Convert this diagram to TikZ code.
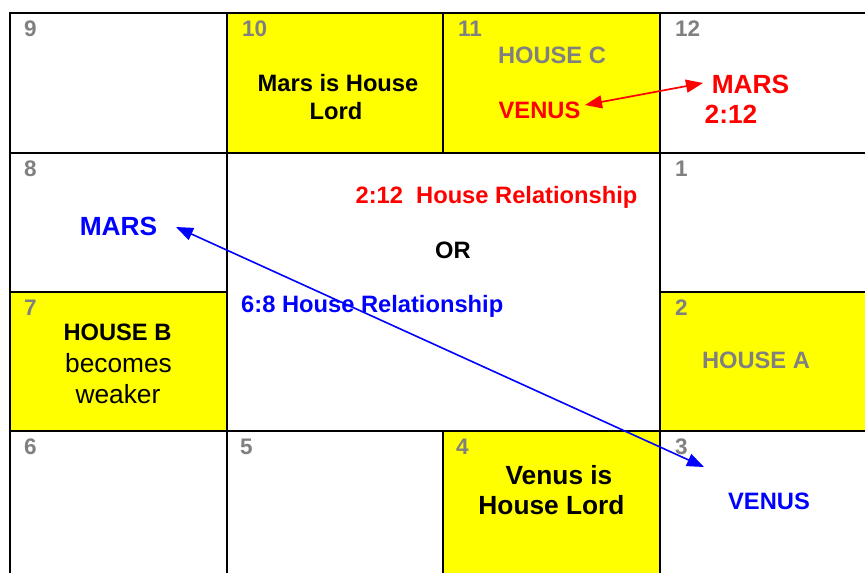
\documentclass[tikz,border=0pt]{standalone}
\usepackage{fontspec}
\setmainfont{Liberation Sans}
\usetikzlibrary{arrows.meta}
\definecolor{numgray}{RGB}{128,128,128}
\definecolor{cellyellow}{RGB}{255,255,0}
\definecolor{pred}{RGB}{255,0,0}
\definecolor{pblue}{RGB}{0,0,255}
\begin{document}
\begin{tikzpicture}[x=1pt,y=-1pt,
  num/.style={anchor=base west, text=numgray, font=\fontsize{22.5}{26}\selectfont\bfseries, inner sep=0pt},
  lbl/.style={anchor=base, inner sep=0pt, font=\fontsize{23.7}{28}\selectfont\bfseries},
  big/.style={anchor=base, inner sep=0pt, font=\fontsize{26.3}{30}\selectfont\bfseries},
  reg/.style={anchor=base, inner sep=0pt, font=\fontsize{26.3}{30}\selectfont},
  gridline/.style={line width=1.8pt, line cap=rect},
  redarrow/.style={draw=pred, line width=1.7pt, {Triangle[length=17pt,width=13pt]}-{Triangle[length=17pt,width=13pt]}},
  bluearrow/.style={draw=pblue, line width=1.6pt, {Triangle[length=17pt,width=13pt]}-{Triangle[length=17pt,width=13pt]}}]
\useasboundingbox (0,0) rectangle (865,573);
% yellow cells
\fill[cellyellow] (227,13) rectangle (660,153);
\fill[cellyellow] (10,292) rectangle (227,431);
\fill[cellyellow] (660,292) rectangle (865,431);
\fill[cellyellow] (443,431) rectangle (660,573);
% grid
\draw[gridline] (10,13) -- (865,13);
\draw[gridline] (10,153) -- (865,153);
\draw[gridline] (10,292) -- (227,292);
\draw[gridline] (660,292) -- (865,292);
\draw[gridline] (10,431) -- (865,431);
\draw[gridline] (10,13) -- (10,573);
\draw[gridline] (227,13) -- (227,573);
\draw[gridline] (443,13) -- (443,153);
\draw[gridline] (443,431) -- (443,573);
\draw[gridline] (660,13) -- (660,573);
% house numbers
\node[num] (n9) at (24,36) {9};
\node[num] (n10) at (242,36) {10};
\node[num] (n11) at (458,36) {11};
\node[num] (n12) at (675,36) {12};
\node[num] (n8) at (24,176) {8};
\node[num] (n1) at (675,176) {1};
\node[num] (n7) at (24,315) {7};
\node[num] (n2) at (675,315) {2};
\node[num] (n6) at (24,454) {6};
\node[num] (n5) at (240,454) {5};
\node[num] (n4) at (456,454) {4};
\node[num] (n3) at (675,454) {3};
% texts
\node[lbl, text=numgray] (hc) at (552,63.5) {HOUSE C};
\node[lbl, text=pred] (rvenus) at (539.5,118.5) {VENUS};
\node[lbl] (ml1) at (338,91.5) {Mars is House};
\node[lbl] (ml2) at (336,119) {Lord};
\node[big, text=pred] (rmars) at (750.5,93) {MARS};
\node[big, text=pred] (r212) at (731,123) {2:12};
\node[lbl, text=pred] (rel1) at (496.5,203.5) {2:12\ \ House Relationship};
\node[lbl] (or) at (453,258.5) {OR};
\node[lbl, text=pblue, anchor=base west] (rel2) at (241,312.5) {6:8 House Relationship};
\node[big, text=pblue] (bmars) at (118.5,235.5) {MARS};
\node[lbl] (hb) at (117.5,340.5) {HOUSE B};
\node[reg] (hb2) at (118.5,372) {becomes};
\node[reg] (hb3) at (118,403) {weaker};
\node[lbl, text=numgray] (ha) at (756,368.5) {HOUSE A};
\node[big] (vl1) at (559,484) {Venus is};
\node[big] (vl2) at (551.5,514) {House Lord};
\node[lbl, text=pblue] (bvenus) at (769,509) {VENUS};
% arrows
\coordinate (ra) at (585,105);
\coordinate (rb) at (703,83);
\coordinate (ba) at (176,227);
\coordinate (bb) at (704,467);
\draw[redarrow] (ra) -- (rb);
\draw[bluearrow] (ba) -- (bb);
\end{tikzpicture}
\end{document}
